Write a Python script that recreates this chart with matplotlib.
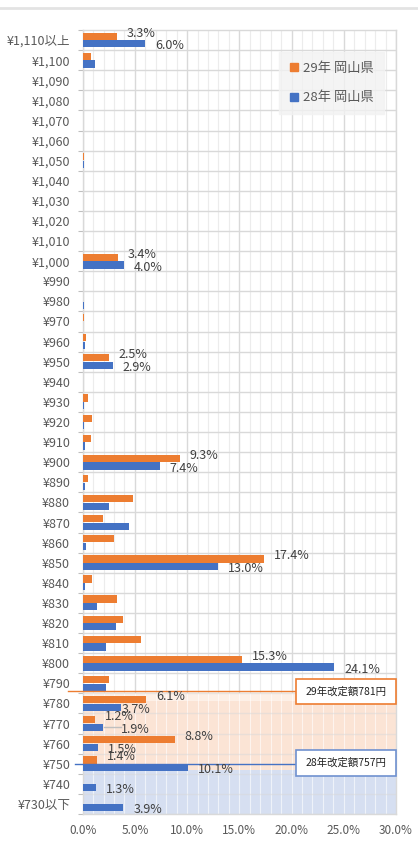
import matplotlib
matplotlib.use('Agg')
import matplotlib.pyplot as plt
from matplotlib.lines import Line2D
from matplotlib.patches import Rectangle
import numpy as np

plt.rcParams['font.family'] = ['Noto Sans CJK JP', 'DejaVu Sans']

categories = ['¥1,110以上', '¥1,100', '¥1,090', '¥1,080', '¥1,070', '¥1,060', '¥1,050',
              '¥1,040', '¥1,030', '¥1,020', '¥1,010', '¥1,000', '¥990', '¥980', '¥970',
              '¥960', '¥950', '¥940', '¥930', '¥920', '¥910', '¥900', '¥890', '¥880',
              '¥870', '¥860', '¥850', '¥840', '¥830', '¥820', '¥810', '¥800', '¥790',
              '¥780', '¥770', '¥760', '¥750', '¥740', '¥730以下']
# % share, 29年 (orange) and 28年 (blue)
h29 = [3.3, 0.8, 0, 0, 0.05, 0, 0.1, 0, 0.05, 0.05, 0.05, 3.4, 0, 0.05, 0.1, 0.3, 2.5,
       0.05, 0.5, 0.9, 0.8, 9.3, 0.5, 4.8, 1.9, 3.0, 17.4, 0.9, 3.3, 3.9, 5.6, 15.3, 2.5,
       6.1, 1.2, 8.8, 1.4, 0, 0]
h28 = [6.0, 1.2, 0, 0, 0, 0, 0.1, 0.05, 0, 0.05, 0.05, 4.0, 0, 0.1, 0.05, 0.2, 2.9,
       0.05, 0.1, 0.1, 0.2, 7.4, 0.2, 2.5, 4.4, 0.3, 13.0, 0.2, 1.4, 3.2, 2.2, 24.1, 2.2,
       3.7, 1.9, 1.5, 10.1, 1.3, 3.9]
labeled = ['¥1,110以上', '¥1,000', '¥950', '¥900', '¥850', '¥800', '¥780', '¥770',
           '¥760', '¥750', '¥740', '¥730以下']
series_names = ['29年 岡山県', '28年 岡山県']
xticks = [0, 5, 10, 15, 20, 25, 30]
note29 = '29年改定額781円'
note28 = '28年改定額757円'

c29 = '#ED7D31'
c28 = '#4472C4'
grey = '#595959'

fig = plt.figure(figsize=(4.18, 8.42), dpi=100)
ax = fig.add_axes([82.7 / 418, 1 - 814 / 842, 313.3 / 418, 784 / 842])

y = np.arange(len(categories))
n = len(categories)

# grid
ax.vlines([v for v in range(31) if v % 5], -0.5, n - 0.5, color='#ececec', lw=0.8, zorder=0.8)
ax.vlines([v for v in range(31) if v % 5 == 0], -0.5, n - 0.5, color='#d9d9d9', lw=1, zorder=0.9)
ax.hlines(np.arange(n) + 0.5, 0, 30, color='#d9d9d9', lw=1, zorder=1)

# shaded bands
ax.axhspan(32.5, 32.9, color='#fdf0e7', lw=0, zorder=1.1)
ax.axhspan(32.9, 36.3, color='#fbe4d5', lw=0, zorder=1.1)
ax.axhspan(36.3, n - 0.5, color='#d6dff1', lw=0, zorder=1.1)
ax.vlines(range(1, 30), 32.5, n - 0.5, color='white', lw=0.8, alpha=0.6, zorder=1.2)
ax.hlines(np.arange(32, n) + 0.5, 0, 30, color='#d9d9d9', lw=1, alpha=0.5, zorder=1.3)

ax.barh(y - 0.19, h29, height=0.36, color=c29, label=series_names[0], zorder=3)
ax.barh(y + 0.19, h28, height=0.36, color=c28, label=series_names[1], zorder=3)

# value labels
extra = {('¥770', 1): 9, ('¥780', 1): -9}
for i, cat in enumerate(categories):
    if cat not in labeled:
        continue
    for k, (vals, dy, yo) in enumerate([(h29, -0.19, 2.2), (h28, 0.19, -1.5)]):
        v = vals[i]
        if v == 0:
            continue
        dx = 7 + extra.get((cat, k), 0) * 0.72
        ax.annotate(f'{v:.1f}%', (v, i + dy), xytext=(dx, yo), textcoords='offset points',
                    va='center', ha='left', fontsize=9, color='#404040', zorder=6)
        if (cat, k) == ('¥770', 1):
            ax.plot([v + 0.1, v + 1.8], [i + dy, i + dy], color='#bfbfbf', lw=1, zorder=4)

# revision lines and boxes
ax.plot([-1.42, 20.4], [32.4, 32.4], color=c29, lw=1, clip_on=False, zorder=4)
ax.plot([-0.74, 20.4], [36.0, 36.0], color=c28, lw=1, clip_on=False, zorder=4)
for (y0, y1, col, txt) in [(31.8, 33.05, c29, note29), (35.3, 36.6, '#6f91d0', note28)]:
    ax.add_patch(Rectangle((20.4, y0), 30 - 20.4, y1 - y0, facecolor='white', edgecolor=col,
                           lw=1.2, zorder=5, clip_on=False))
    ax.text((20.4 + 30) / 2, (y0 + y1) / 2, txt, ha='center', va='center', fontsize=7.5,
            color='#222222', zorder=6)

ax.set_xlim(0, 30)
ax.set_ylim(n - 0.5, -0.5)
ax.set_yticks(y)
ax.set_yticklabels(categories)
ax.set_yticks(np.arange(n + 1) - 0.5, minor=True)
ax.tick_params(axis='y', which='major', length=0, pad=9, labelsize=9, labelcolor=grey)
ax.tick_params(axis='y', which='minor', length=3.6, color='#bfbfbf', width=0.8)
ax.set_xticks(xticks)
ax.set_xticklabels([f'{v:.1f}%' for v in xticks])
ax.tick_params(axis='x', length=0, pad=7, labelsize=8.5, labelcolor=grey)
for s in ax.spines.values():
    s.set_color('#d9d9d9')
    s.set_linewidth(1)

handles = [Line2D([], [], marker='s', ls='', color=c29, markersize=5.5),
           Line2D([], [], marker='s', ls='', color=c28, markersize=5.5)]
leg = ax.legend(handles, series_names, loc='upper right', bbox_to_anchor=(0.962, 0.972),
                borderaxespad=0, fontsize=9.5, frameon=True, facecolor='#f2f2f2',
                edgecolor='#f2f2f2', fancybox=False, borderpad=0.75, labelspacing=1.25,
                handletextpad=0.3, handlelength=0.8, labelcolor=grey)
leg.set_zorder(7)

fig.add_artist(Line2D([0, 1], [1 - 8 / 842] * 2, color='#e3e3e3', lw=2))

fig.savefig('out.png', dpi=100)
